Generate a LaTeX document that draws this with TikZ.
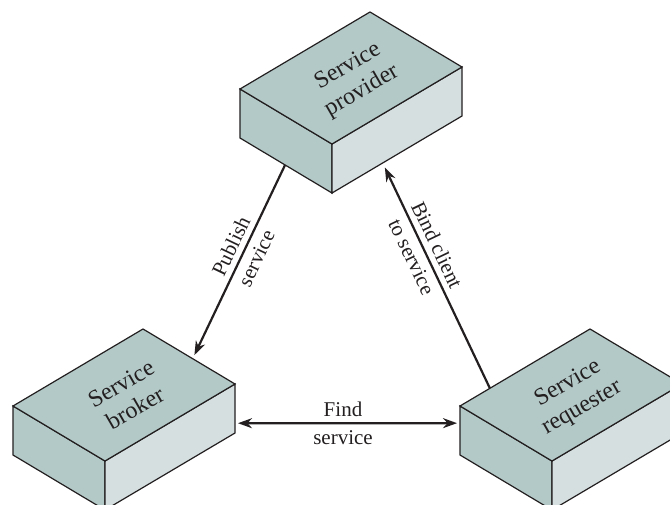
\documentclass[tikz,border=0pt]{standalone}
\usepackage{fontspec}
\setmainfont{Liberation Serif}
\usetikzlibrary{positioning, arrows.meta, calc}
\definecolor{boxTop}{HTML}{b3c9c8}
\definecolor{boxSide}{HTML}{d5dfe0}
\definecolor{ink}{HTML}{231f20}
\newcommand{\svcbox}[4]{% name, x, y of left corner, label
\coordinate (#1-l) at (#2,#3); \coordinate (#1-f) at ($(#1-l)+(92,55)$); \coordinate (#1-t) at ($(#1-l)+(130,-77)$); \coordinate (#1-r) at ($(#1-f)+(130,-77)$);
\coordinate (#1-lb) at ($(#1-l)+(0,49)$); \coordinate (#1-fb) at ($(#1-f)+(0,49)$); \coordinate (#1-rb) at ($(#1-r)+(0,49)$);
\draw[face, fill=boxTop] (#1-l)--(#1-f)--(#1-fb)--(#1-lb)--cycle;
\draw[face, fill=boxSide] (#1-f)--(#1-r)--(#1-rb)--(#1-fb)--cycle;
\draw[face, fill=boxTop] (#1-l)--(#1-t)--(#1-r)--(#1-f)--cycle;
\node[lbl] (#1) at ($(#1-l)!0.5!(#1-r)+(4,1)$) {#4};}

\begin{document}
\begin{tikzpicture}[x=1pt, y=-1pt, >={Stealth[length=14pt, width=10pt]},
face/.style={draw=ink, line width=1.2pt, line join=miter},
lbl/.style={rotate=30, align=center, text=ink, inner sep=0pt, font=\fontsize{24}{28}\selectfont},
arr/.style={line width=2.2pt, draw=ink},
tag/.style={align=center, text=ink, font=\fontsize{21}{28}\selectfont, inner sep=0pt}]
\useasboundingbox (0,0) rectangle (670,504);
\clip (0,0) rectangle (670,504);
\svcbox{prov}{240}{89}{Service\\provider}
\svcbox{brok}{13}{406}{Service\\broker}
\svcbox{req}{460}{406}{Service\\requester}
% connector ends on the boxes
\coordinate (pub-a) at ($(prov-lb)!0.49!(prov-fb)$); \coordinate (pub-b) at ($(brok-t)!0.54!(brok-r)$);
\coordinate (bind-a) at ($(req-l)!0.23!(req-t)$); \coordinate (bind-b) at ($(prov-fb)!0.39!(prov-rb)$);
\coordinate (find-a) at ($(brok-r)!0.8!(brok-rb)$); \coordinate (find-b) at ($(req-l)!0.35!(req-lb)$);
\draw[arr, ->, shorten >=4pt] (pub-a) -- node[tag, sloped, pos=0.45] (pub) {Publish\\service} (pub-b);
\draw[arr, ->, shorten >=5pt] (bind-a) -- node[tag, sloped, pos=0.61] (bind) {Bind client\\to service} (bind-b);
\draw[arr, <->, shorten <=3pt, shorten >=3pt] (find-a) -- node[tag, pos=0.48] (find) {Find\\service} (find-b);
\end{tikzpicture}
\end{document}
